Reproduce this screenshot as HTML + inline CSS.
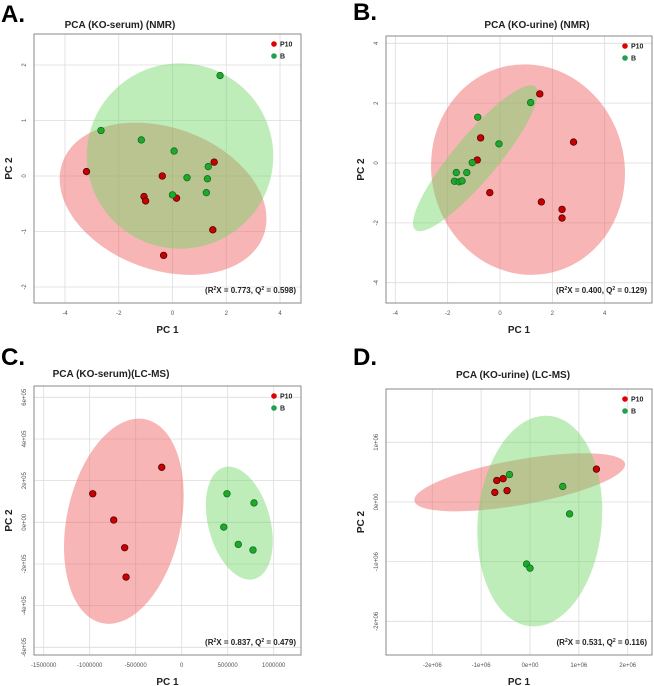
<!DOCTYPE html>
<html><head><meta charset="utf-8">
<style>
body{margin:0;background:#fff;width:654px;height:686px;overflow:hidden;font-family:"Liberation Sans",sans-serif}
svg{display:block}
</style></head>
<body>
<svg id="fig" width="654" height="686" viewBox="0 0 654 686" xmlns="http://www.w3.org/2000/svg"></svg>
<script>
// ---- Panel A data (KO-serum NMR)
const aRedX=[-3.2,-0.38,-1.06,-1.0,0.15,1.55,1.5,-0.33];
const aRedY=[0.08,0,-0.37,-0.45,-0.4,0.25,-0.97,-1.43];
const aGreenX=[1.77,-2.66,-1.16,0.06,1.33,0.54,1.3,0.0,1.26];
const aGreenY=[1.81,0.82,0.65,0.45,0.17,-0.03,-0.05,-0.34,-0.3];
const aXTicks=[-4,-2,0,2,4];
const aYTicks=[-2,-1,0,1,2];
// ---- Panel B data (KO-urine NMR)
const bRedX=[1.52,2.81,-0.74,-0.87,-0.39,1.58,2.37,2.37];
const bRedY=[2.31,0.70,0.84,0.1,-0.99,-1.3,-1.55,-1.84];
const bGreenX=[1.17,-0.85,-0.04,-1.06,-1.67,-1.27,-1.74,-1.56,-1.45];
const bGreenY=[2.02,1.53,0.64,0.01,-0.32,-0.32,-0.61,-0.63,-0.6];
const bXTicks=[-4,-2,0,2,4];
const bYTicks=[-4,-2,0,2,4];
// ---- Panel C data (KO-serum LC-MS)
const cRedX=[-217000,-967000,-739000,-620000,-605000];
const cRedY=[264000,137000,11000,-122000,-263000];
const cGreenX=[492000,786000,457000,615000,775000];
const cGreenY=[137000,93000,-23000,-106000,-133000];
const cXTicks=[-1500000,-1000000,-500000,0,500000,1000000];
const cXLabels=["-1500000","-1000000","-500000","0","500000","1000000"];
const cYTicks=[-600000,-400000,-200000,0,200000,400000,600000];
const cYLabels=["-6e+05","-4e+05","-2e+05","0e+00","2e+05","4e+05","6e+05"];
// ---- Panel D data (KO-urine LC-MS)
const dRedX=[1360000,-680000,-550000,-470000,-720000];
const dRedY=[550000,360000,390000,190000,160000];
const dGreenX=[-420000,670000,810000,-70000,0];
const dGreenY=[460000,260000,-200000,-1040000,-1110000];
const dXTicks=[-2000000,-1000000,0,1000000,2000000];
const dXLabels=["-2e+06","-1e+06","0e+00","1e+06","2e+06"];
const dYTicks=[-2000000,-1000000,0,1000000];
const dYLabels=["-2e+06","-1e+06","0e+00","1e+06"];
// ---- Confidence ellipses: [cx, cy, rx, ry, angleDeg]
const aRedEllipse=[-0.35,-0.41,3.98,1.28,20];
const aGreenEllipse=[0.28,0.36,3.47,1.67,8];
const bRedEllipse=[1.07,-0.22,3.69,3.53,-12];
const bGreenEllipse=[-0.94,0.16,3.57,0.74,-50];
const cRedEllipse=[-629000,5000,620000,500000,12];
const cGreenEllipse=[626000,-4000,337000,278000,-15];
const dRedEllipse=[-210000,330000,2190000,380000,-10];
const dGreenEllipse=[200000,-320000,1270000,1770000,5];

const NS="http://www.w3.org/2000/svg";
const svg=document.getElementById('fig');
function mk(tag,attrs,parent){const e=document.createElementNS(NS,tag);for(const k in attrs)e.setAttribute(k,attrs[k]);(parent||svg).appendChild(e);return e;}

function panel(cfg){
  const g=mk('g',{});
  
  
  const b=cfg.box;
  const sx=v=>cfg.xp[0]+(v-cfg.xv[0])*(cfg.xp[1]-cfg.xp[0])/(cfg.xv[1]-cfg.xv[0]);
  const sy=v=>cfg.yp[0]+(v-cfg.yv[0])*(cfg.yp[1]-cfg.yp[0])/(cfg.yv[1]-cfg.yv[0]);
  const kx=Math.abs((cfg.xp[1]-cfg.xp[0])/(cfg.xv[1]-cfg.xv[0]));
  const ky=Math.abs((cfg.yp[1]-cfg.yp[0])/(cfg.yv[1]-cfg.yv[0]));
  // grid
  cfg.xt.forEach((v,i)=>{
    const l=mk('line',{x1:sx(v),x2:sx(v),y1:b.t,y2:b.b,stroke:'#dcdcdc','stroke-width':0.8},g);
    
    
    const t=mk('text',{x:sx(v),y:b.b+12,'font-size':6,fill:'#555','text-anchor':'middle'},g);
    
    
    t.textContent=cfg.xl?cfg.xl[i]:String(v);
  });
  cfg.yt.forEach((v,i)=>{
    const l=mk('line',{x1:b.l,x2:b.r,y1:sy(v),y2:sy(v),stroke:'#dcdcdc','stroke-width':0.8},g);
    
    
    const tx=b.l-8, ty=sy(v);
    const t=mk('text',{x:tx,y:ty,'font-size':6,fill:'#555','text-anchor':'middle',transform:`rotate(-90 ${tx} ${ty})`},g);
    
    
    t.textContent=cfg.yl?cfg.yl[i]:String(v);
  });
  // ellipses
  [[cfg.re,'rgba(240,90,90,0.45)','red-ellipse'],[cfg.ge,'rgba(110,215,100,0.45)','green-ellipse']].forEach(([e,c,n])=>{
    const cx=sx(e[0]),cy=sy(e[1]);
    const el=mk('ellipse',{cx:cx,cy:cy,rx:e[2]*kx,ry:e[3]*ky,fill:c,transform:`rotate(${e[4]} ${cx} ${cy})`},g);
    
    
  });
  // border
  const r=mk('rect',{x:b.l,y:b.t,width:b.r-b.l,height:b.b-b.t,fill:'none',stroke:'#888','stroke-width':1},g);
  
  
  // points
  cfg.rx.forEach((v,i)=>{
    const p=mk('circle',{cx:sx(v),cy:sy(cfg.ry[i]),r:3.3,fill:'#c80000',stroke:'#400','stroke-width':0.7},g);
    
    
  });
  cfg.gx.forEach((v,i)=>{
    const p=mk('circle',{cx:sx(v),cy:sy(cfg.gy[i]),r:3.3,fill:'#22a822',stroke:'#063','stroke-width':0.7},g);
    
    
  });
  // legend
  const lx=b.r-27, ly=b.t+10;
  const c1=mk('circle',{cx:lx,cy:ly,r:2.8,fill:'#e00000'},g);
  
  
  const t1=mk('text',{x:lx+6,y:ly+2.5,'font-size':7,'font-weight':'bold',fill:'#222'},g);
  
  
  t1.textContent='P10';
  const c2=mk('circle',{cx:lx,cy:ly+12,r:2.8,fill:'#20a050'},g);
  
  
  const t2=mk('text',{x:lx+6,y:ly+14.5,'font-size':7,'font-weight':'bold',fill:'#222'},g);
  
  
  t2.textContent='B';
  // stats
  const st=mk('text',{x:b.r-5,y:b.b-10,'font-size':8,'font-weight':'bold',fill:'#222','text-anchor':'end'},g);
  
  
  st.innerHTML=`(R<tspan font-size="5" dy="-3">2</tspan><tspan dy="3">X = ${cfg.r2}, Q</tspan><tspan font-size="5" dy="-3">2</tspan><tspan dy="3"> = ${cfg.q2})</tspan>`;
  // title
  const ti=mk('text',{x:cfg.tx,y:cfg.ty,'font-size':10,'font-weight':'bold',fill:'#222','text-anchor':'middle'},g);
  
  
  ti.textContent=cfg.title;
  // letter
  const le=mk('text',{x:cfg.lx,y:cfg.ly,'font-size':24,'font-weight':'bold',fill:'#000'},g);
  
  
  le.textContent=cfg.letter;
  // axis titles
  const xa=mk('text',{x:(b.l+b.r)/2,y:b.b+30,'font-size':10,'font-weight':'bold',fill:'#222','text-anchor':'middle'},g);
  
  
  xa.textContent='PC 1';
  const yx=b.l-22, yy=(b.t+b.b)/2;
  const ya=mk('text',{x:yx,y:yy,'font-size':10,'font-weight':'bold',fill:'#222','text-anchor':'middle',transform:`rotate(-90 ${yx} ${yy})`},g);
  
  
  ya.textContent='PC 2';
}

panel({name:'panel-a',letter:'A.',lx:1,ly:22,title:'PCA (KO-serum) (NMR)',tx:120,ty:28,
  box:{l:34,t:34,r:301,b:303},xv:[-4,4],xp:[65,280],yv:[2,-2],yp:[65,287],
  xt:aXTicks,yt:aYTicks,rx:aRedX,ry:aRedY,gx:aGreenX,gy:aGreenY,re:aRedEllipse,ge:aGreenEllipse,r2:'0.773',q2:'0.598'});
panel({name:'panel-b',letter:'B.',lx:353,ly:20,title:'PCA (KO-urine) (NMR)',tx:537,ty:28,
  box:{l:386,t:36,r:652,b:303},xv:[-4,4],xp:[395.3,604.7],yv:[4,-4],yp:[43.3,282.7],
  xt:bXTicks,yt:bYTicks,rx:bRedX,ry:bRedY,gx:bGreenX,gy:bGreenY,re:bRedEllipse,ge:bGreenEllipse,r2:'0.400',q2:'0.129'});
panel({name:'panel-c',letter:'C.',lx:1,ly:365,title:'PCA (KO-serum)(LC-MS)',tx:111,ty:377,
  box:{l:34,t:386,r:301,b:655},xv:[-1500000,1000000],xp:[43.7,273.7],yv:[600000,-600000],yp:[397.3,647.3],
  xt:cXTicks,xl:cXLabels,yt:cYTicks,yl:cYLabels,rx:cRedX,ry:cRedY,gx:cGreenX,gy:cGreenY,re:cRedEllipse,ge:cGreenEllipse,r2:'0.837',q2:'0.479'});
panel({name:'panel-d',letter:'D.',lx:353,ly:365,title:'PCA (KO-urine) (LC-MS)',tx:513,ty:378,
  box:{l:386,t:389,r:652,b:655},xv:[-2000000,2000000],xp:[432.3,627.7],yv:[1000000,-2000000],yp:[442.3,621.3],
  xt:dXTicks,xl:dXLabels,yt:dYTicks,yl:dYLabels,rx:dRedX,ry:dRedY,gx:dGreenX,gy:dGreenY,re:dRedEllipse,ge:dGreenEllipse,r2:'0.531',q2:'0.116'});
</script>
</body></html>
